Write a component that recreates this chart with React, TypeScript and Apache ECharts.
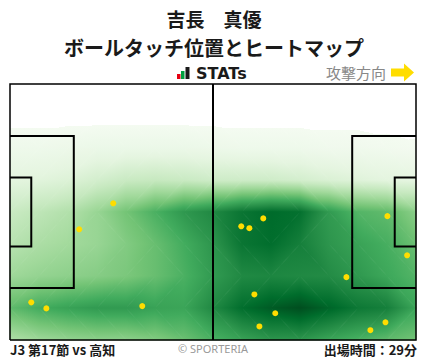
import React, { useEffect, useRef } from "react";
import * as echarts from "echarts";

// Pitch size in metres
const PITCH_LENGTH = 105;
const PITCH_WIDTH = 68;

// Ball touch positions [x from own goal line (m), y from top touchline (m)]
const touchX = [26.7, 17.9, 5.5, 9.4, 34.2, 65.5, 59.8, 61.9, 97.6, 102.7, 87.0, 63.2, 68.6, 64.5, 97.1, 93.2];
const touchY = [31.7, 38.6, 58.0, 59.6, 59.0, 35.7, 37.8, 38.3, 35.1, 45.5, 51.3, 55.9, 60.9, 64.4, 63.3, 65.4];

// Heat level (0..1 on the Greens scale) read at grid nodes
const heatGridX = [0, 7.5, 15, 22.5, 30, 37.5, 45, 52.5, 60, 67.5, 75, 82.5, 90, 97.5, 105];
const heatGridY = [0, 8.5, 17, 25.5, 34, 42.5, 51, 59.5, 68];
const heatRow0 = [0, 0, 0, 0, 0, 0, 0, 0, 0, 0, 0, 0, 0, 0, 0];
const heatRow1 = [0, 0, 0, 0, 0, 0, 0, 0, 0, 0, 0, 0, 0, 0, 0];
const heatRow2 = [0.06, 0.06, 0.07, 0.08, 0.08, 0.08, 0.08, 0.07, 0.06, 0.06, 0.06, 0.05, 0.05, 0.04, 0.03];
const heatRow3 = [0.13, 0.14, 0.16, 0.2, 0.24, 0.25, 0.24, 0.22, 0.22, 0.22, 0.2, 0.17, 0.15, 0.13, 0.12];
const heatRow4 = [0.24, 0.28, 0.32, 0.4, 0.5, 0.6, 0.7, 0.76, 0.84, 0.88, 0.86, 0.69, 0.58, 0.55, 0.44];
const heatRow5 = [0.3, 0.34, 0.37, 0.4, 0.46, 0.53, 0.62, 0.71, 0.84, 0.87, 0.8, 0.71, 0.66, 0.61, 0.52];
const heatRow6 = [0.38, 0.41, 0.43, 0.45, 0.48, 0.53, 0.6, 0.69, 0.76, 0.77, 0.76, 0.75, 0.7, 0.64, 0.58];
const heatRow7 = [0.55, 0.62, 0.66, 0.69, 0.69, 0.66, 0.65, 0.76, 0.87, 0.93, 0.97, 0.9, 0.83, 0.8, 0.65];
const heatRow8 = [0.33, 0.38, 0.41, 0.43, 0.43, 0.46, 0.52, 0.6, 0.66, 0.71, 0.71, 0.65, 0.6, 0.55, 0.5];
const heatRows = [heatRow0, heatRow1, heatRow2, heatRow3, heatRow4, heatRow5, heatRow6, heatRow7, heatRow8];
const HEAT_THRESHOLD = 0.022;

const GREENS = ["#f7fcf5", "#e5f5e0", "#c7e9c0", "#a1d99b", "#74c476", "#41ab5d", "#238b45", "#006d2c", "#00441b"];

const TITLE = "吉長　真優";
const SUBTITLE = "ボールタッチ位置とヒートマップ";
const MATCH = "J3 第17節 vs 高知";
const MINUTES = "出場時間：29分";

// layout (px)
const PITCH_LEFT = 10;
const PITCH_TOP = 84;
const PITCH_W_PX = 406;
const PITCH_H_PX = 256;

const toGeo = (x: number, y: number) => [x, PITCH_WIDTH - y];

function pitchLines() {
  const L = PITCH_LENGTH;
  const W = PITCH_WIDTH;
  const pbD = 16.5, pbW = 40.32, gaD = 5.5, gaW = 18.32;
  const pbT = (W - pbW) / 2, pbB = (W + pbW) / 2;
  const gaT = (W - gaW) / 2, gaB = (W + gaW) / 2;
  const seg = (pts: number[][]) => ({ coords: pts.map(([x, y]) => toGeo(x, y)) });
  return [
    seg([[L / 2, 0], [L / 2, W]]),
    seg([[0, pbT], [pbD, pbT], [pbD, pbB], [0, pbB]]),
    seg([[0, gaT], [gaD, gaT], [gaD, gaB], [0, gaB]]),
    seg([[L, pbT], [L - pbD, pbT], [L - pbD, pbB], [L, pbB]]),
    seg([[L, gaT], [L - gaD, gaT], [L - gaD, gaB], [L, gaB]]),
  ];
}

const levelColor = (t: number) =>
  t < HEAT_THRESHOLD ? "#ffffff" : (echarts.color.lerp(Math.max(0, Math.min(1, t)), GREENS) as string);

type Node = { p: number[]; t: number };

// Gouraud-style shading of a triangle: the level varies linearly, mapped through the Greens ramp
function shadeTriangle(v1: Node, v2: Node, v3: Node) {
  const pts = [v1.p, v2.p, v3.p];
  const ts = [v1.t, v2.t, v3.t];
  const tMin = Math.min(...ts);
  const tMax = Math.max(...ts);
  let fill: any;
  if (tMax - tMin < 1e-6) {
    fill = levelColor(tMin);
  } else {
    const e1x = v2.p[0] - v1.p[0], e1y = v2.p[1] - v1.p[1];
    const e2x = v3.p[0] - v1.p[0], e2y = v3.p[1] - v1.p[1];
    const dt1 = v2.t - v1.t, dt2 = v3.t - v1.t;
    const det = e1x * e2y - e1y * e2x;
    const a = (dt1 * e2y - e1y * dt2) / det;
    const b = (e1x * dt2 - dt1 * e2x) / det;
    const g2 = a * a + b * b;
    const iMin = ts.indexOf(tMin);
    const p0 = pts[iMin];
    const span = tMax - tMin;
    const p1 = [p0[0] + (a * span) / g2, p0[1] + (b * span) / g2];
    const stops: { offset: number; color: string }[] = [{ offset: 0, color: levelColor(tMin) }];
    if (tMin < HEAT_THRESHOLD && tMax > HEAT_THRESHOLD) {
      const o = (HEAT_THRESHOLD - tMin) / span;
      stops.push({ offset: o, color: "#ffffff" });
      stops.push({ offset: o, color: levelColor(HEAT_THRESHOLD) });
    }
    for (let k = 1; k < GREENS.length - 1; k++) {
      const tk = k / (GREENS.length - 1);
      if (tk > tMin && tk < tMax && tk > HEAT_THRESHOLD) {
        stops.push({ offset: (tk - tMin) / span, color: levelColor(tk) });
      }
    }
    stops.push({ offset: 1, color: levelColor(tMax) });
    stops.sort((s1, s2) => s1.offset - s2.offset);
    fill = new echarts.graphic.LinearGradient(p0[0], p0[1], p1[0], p1[1], stops, true);
  }
  return {
    type: "polygon",
    silent: true,
    shape: { points: pts },
    style: { fill, stroke: fill, lineWidth: 0.8, lineJoin: "round" },
  };
}

export default function App() {
  const ref = useRef<HTMLDivElement>(null);
  useEffect(() => {
    document.body.style.margin = "0";
    echarts.registerMap("pitch", {
      type: "FeatureCollection",
      features: [
        {
          type: "Feature",
          properties: { name: "pitch" },
          geometry: {
            type: "Polygon",
            coordinates: [[[0, 0], [PITCH_LENGTH, 0], [PITCH_LENGTH, PITCH_WIDTH], [0, PITCH_WIDTH], [0, 0]]],
          },
        },
      ],
    } as any);
    const chart = echarts.init(ref.current!, null, { renderer: "svg" });
    const L = PITCH_LENGTH, W = PITCH_WIDTH;
    const cells: number[][] = [];
    for (let j = 0; j < heatGridY.length - 1; j++) {
      for (let i = 0; i < heatGridX.length - 1; i++) cells.push([i, j]);
    }
    chart.setOption({
      animation: false,
      geo: {
        map: "pitch",
        left: PITCH_LEFT,
        top: PITCH_TOP,
        width: PITCH_W_PX,
        height: PITCH_H_PX,
        aspectScale: (PITCH_W_PX / PITCH_H_PX) / (L / W),
        roam: false,
        silent: true,
        label: { show: false },
        itemStyle: { areaColor: "#ffffff", borderWidth: 0, borderColor: "rgba(0,0,0,0)" },
        emphasis: { disabled: true },
        select: { disabled: true },
      },
      series: [
        {
          type: "custom",
          coordinateSystem: "geo",
          geoIndex: 0,
          silent: true,
          z: 2,
          data: cells,
          renderItem: (params: any, api: any) => {
            const i = api.value(0) as number;
            const j = api.value(1) as number;
            const node = (ii: number, jj: number): Node => ({
              p: api.coord(toGeo(heatGridX[ii], heatGridY[jj])),
              t: heatRows[jj][ii],
            });
            const a = node(i, j), b = node(i + 1, j), c = node(i + 1, j + 1), d = node(i, j + 1);
            const children =
              Math.abs(a.t - c.t) <= Math.abs(b.t - d.t)
                ? [shadeTriangle(a, b, c), shadeTriangle(a, c, d)]
                : [shadeTriangle(a, b, d), shadeTriangle(b, c, d)];
            return { type: "group", children };
          },
        },
        {
          type: "lines",
          coordinateSystem: "geo",
          geoIndex: 0,
          polyline: true,
          silent: true,
          lineStyle: { color: "#000", width: 2, opacity: 1 },
          data: pitchLines(),
          z: 3,
        },
        {
          type: "lines",
          coordinateSystem: "geo",
          geoIndex: 0,
          polyline: true,
          silent: true,
          lineStyle: { color: "#000", width: 1.5, opacity: 1 },
          data: [{ coords: [[0, 0], [L, 0], [L, W], [0, W], [0, 0]] }],
          z: 3,
        },
        {
          type: "scatter",
          coordinateSystem: "geo",
          geoIndex: 0,
          symbol: "circle",
          symbolSize: 6,
          silent: true,
          itemStyle: { color: "#FFDD00", opacity: 1 },
          data: touchX.map((x, i) => toGeo(x, touchY[i])),
          z: 4,
        },
      ],
      graphic: [
        {
          type: "text",
          x: 214,
          y: 18.5,
          style: { text: TITLE, font: 'bold 19px "Noto Sans CJK JP"', fill: "#1a1a1a", align: "center", verticalAlign: "middle" },
        },
        {
          type: "text",
          x: 214,
          y: 47,
          style: { text: SUBTITLE, font: 'bold 20px "Noto Sans CJK JP"', fill: "#1a1a1a", align: "center", verticalAlign: "middle" },
        },
        { type: "rect", shape: { x: 177, y: 74, width: 3.5, height: 5 }, style: { fill: "#e60012" } },
        { type: "rect", shape: { x: 181, y: 71, width: 3.5, height: 8 }, style: { fill: "#00a040" } },
        { type: "rect", shape: { x: 185.5, y: 67, width: 4, height: 12 }, style: { fill: "#1a1a1a" } },
        {
          type: "text",
          x: 196,
          y: 73.5,
          style: { text: "STATs", font: 'bold 16px "DejaVu Sans"', fill: "#1a1a1a", align: "left", verticalAlign: "middle" },
        },
        {
          type: "text",
          x: 386,
          y: 72,
          style: { text: "攻撃方向", font: '15px "Noto Sans CJK JP"', fill: "#888888", align: "right", verticalAlign: "middle" },
        },
        {
          type: "polygon",
          shape: { points: [[391, 68.5], [404, 68.5], [404, 63.5], [414, 72.5], [404, 81.5], [404, 76.5], [391, 76.5]] },
          style: { fill: "#FFDD00" },
        },
        {
          type: "text",
          x: 10,
          y: 349,
          style: { text: MATCH, font: 'bold 13px "Noto Sans CJK JP"', fill: "#1a1a1a", align: "left", verticalAlign: "middle" },
        },
        {
          type: "text",
          x: 213,
          y: 348,
          style: { text: "© SPORTERIA", font: '11px "Noto Sans"', fill: "#999999", align: "center", verticalAlign: "middle" },
        },
        {
          type: "text",
          x: 417,
          y: 349,
          style: { text: MINUTES, font: 'bold 13px "Noto Sans CJK JP"', fill: "#1a1a1a", align: "right", verticalAlign: "middle" },
        },
      ],
    });
    return () => chart.dispose();
  }, []);
  return <div ref={ref} style={{ width: 428, height: 359, position: "absolute", left: 0, top: 0 }} />;
}
